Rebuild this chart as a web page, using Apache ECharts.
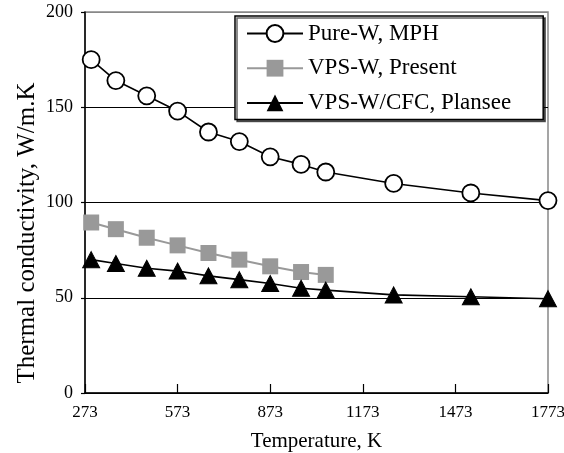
<!DOCTYPE html>
<html>
<head>
<meta charset="utf-8">
<script src="https://cdn.jsdelivr.net/npm/echarts@6/dist/echarts.min.js"></script>
<style>html,body{margin:0;padding:0;background:#fff}#c{width:564px;height:453px}</style>
</head>
<body>
<div id="c"></div>
<script>
// Data (temperatures in K, conductivity in W/m.K)
const pureT = [293, 373, 473, 573, 673, 773, 873, 973, 1053, 1273, 1523, 1773];
const pureV = [175, 164, 156, 148, 137, 132, 124, 120, 116, 110, 105, 101];
const vpsT = [293, 373, 473, 573, 673, 773, 873, 973, 1053];
const vpsV = [89.5, 86, 81.5, 77.5, 73.5, 70, 66.5, 63.5, 62];
const cfcT = [293, 373, 473, 573, 673, 773, 873, 973, 1053, 1273, 1523, 1773];
const cfcV = [70, 68, 65.5, 64, 61.5, 59.5, 57.5, 55, 54, 51.5, 50.5, 49.5];
const seriesNames = ['Pure-W, MPH', 'VPS-W, Present', 'VPS-W/CFC, Plansee'];
const xTickLabels = [273, 573, 873, 1173, 1473, 1773];
const yTicks = [0, 50, 100, 150, 200];
const xTitle = 'Temperature, K';
const yTitle = 'Thermal conductivity, W/m.K';

const T0 = xTickLabels[0];
const pair = (ts, vs) => ts.map((t, i) => [t - T0, vs[i]]);
const font = '"Liberation Serif", "Times New Roman", serif';

const chart = echarts.init(document.getElementById('c'), null, {renderer: 'canvas'});
chart.setOption({
  animation: false,
  backgroundColor: '#fff',
  textStyle: {fontFamily: font, color: '#000'},
  grid: {left: 85, right: 16, top: 12, bottom: 60, outerBoundsMode: 'none', containLabel: false,
         show: true, borderColor: '#888', borderWidth: 1.5, backgroundColor: 'transparent'},
  xAxis: {
    type: 'value', min: 0, max: xTickLabels[xTickLabels.length - 1] - T0, interval: 300,
    name: xTitle, nameLocation: 'middle', nameGap: 38,
    nameTextStyle: {fontFamily: font, fontSize: 21, color: '#000'},
    axisLine: {show: true, onZero: false, lineStyle: {color: '#000', width: 1.5}},
    axisTick: {show: true, inside: true, length: 9, lineStyle: {color: '#000', width: 1.2}},
    axisLabel: {fontFamily: font, fontSize: 17, color: '#000', margin: 11, formatter: v => String(v + T0)},
    splitLine: {show: false}
  },
  yAxis: {
    type: 'value', min: yTicks[0], max: yTicks[yTicks.length - 1], interval: 50,
    axisLine: {show: true, lineStyle: {color: '#000', width: 1.5}},
    axisTick: {show: true, inside: false, length: 4, lineStyle: {color: '#000', width: 1.2}},
    axisLabel: {fontFamily: font, fontSize: 18, color: '#000', margin: 12},
    splitLine: {show: true, lineStyle: {color: ['#000', '#000', '#000', '#000', '#888'], width: 1}}
  },
  graphic: [{
    type: 'text', x: 27, y: 233, rotation: Math.PI / 2,
    style: {text: yTitle, font: '25px ' + font, fill: '#000', textAlign: 'center', textVerticalAlign: 'middle'}
  }],
  legend: {
    orient: 'vertical', left: 235, top: 16,
    padding: [6, 32, 5, 11], itemGap: 11.7, itemWidth: 56, itemHeight: 21,
    backgroundColor: '#fff', borderColor: '#000', borderWidth: 1.5,
    shadowColor: 'rgba(0,0,0,0.6)', shadowOffsetX: 2, shadowOffsetY: 2, shadowBlur: 0,
    textStyle: {fontFamily: font, fontSize: 23, lineHeight: 23, color: '#000'},
    data: seriesNames
  },
  series: [
    {name: seriesNames[0], type: 'line', data: pair(pureT, pureV), symbol: 'circle', symbolSize: 17,
     lineStyle: {color: '#000', width: 1.6}, itemStyle: {color: '#fff', borderColor: '#000', borderWidth: 1.8}, z: 3},
    {name: seriesNames[1], type: 'line', data: pair(vpsT, vpsV), symbol: 'rect', symbolSize: 16,
     lineStyle: {color: '#999', width: 2}, itemStyle: {color: '#999', borderColor: '#999', borderWidth: 0}, z: 2},
    {name: seriesNames[2], type: 'line', data: pair(cfcT, cfcV), symbol: 'triangle', symbolSize: [17, 16],
     lineStyle: {color: '#000', width: 1.6}, itemStyle: {color: '#000', borderColor: '#000'}, z: 4}
  ]
});
</script>
</body>
</html>
